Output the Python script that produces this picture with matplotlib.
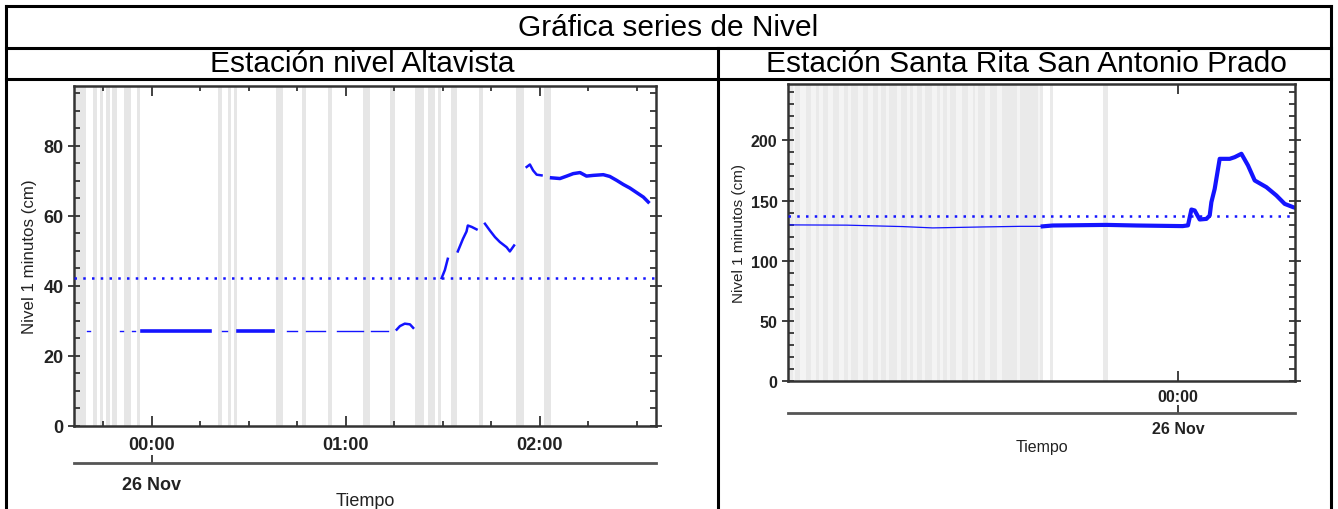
import numpy as np
import matplotlib.pyplot as plt
import matplotlib.dates as mdates
from matplotlib.lines import Line2D

plt.rcParams['font.family'] = ['Liberation Sans', 'DejaVu Sans']

# Fecha base: 26 Nov 00:00
base = np.datetime64('2019-11-26T00:00:00')

def a_fecha(minutos):
    return base + (np.asarray(minutos, dtype=float) * 60).astype('timedelta64[s]')

# ---------------- Estación nivel Altavista (minutos desde 00:00) ----------------
alt_xlim = [-24.1, 155.9]
alt_umbral = 42.2
alt_huecos = [(-24.1, -20.4), (-18.2, -17.0), (-16.1, -15.2), (-14.2, -13.0), (-12.4, -10.8),
              (-8.7, -6.5), (-4.6, -3.7), (20.4, 21.6), (23.5, 24.4), (25.4, 26.3),
              (38.4, 40.5), (46.4, 47.6), (54.4, 55.7), (65.3, 67.4), (73.6, 75.2),
              (81.3, 84.1), (85.4, 87.5), (88.5, 89.4), (92.5, 94.3), (101.1, 102.4),
              (112.6, 115.1), (121.2, 123.4)]
# tramos planos en ~27 cm
alt_planos_finos = [(-20.0, -19.2), (-9.9, -9.1), (-6.3, -5.3), (21.6, 23.1), (41.8, 44.8),
                    (47.8, 53.5), (57.1, 65.3), (67.9, 73.1)]
alt_planos_gruesos = [(-3.2, 17.9), (26.7, 37.5)]
alt_nivel_plano = 27.0
# tramos con variación
alt_t1 = [75.7, 76.7, 78.2, 79.8, 80.8]
alt_v1 = [27.5, 28.5, 29.2, 29.0, 28.0]
alt_t2 = [89.6, 90.6, 91.5]
alt_v2 = [42.2, 44.5, 47.7]
alt_t3 = [94.6, 96.2, 97.3, 97.7, 98.9, 100.4]
alt_v3 = [49.8, 53.4, 55.5, 57.2, 56.8, 56.1]
alt_t4 = [103.0, 104.5, 106.1, 107.6, 109.7, 110.7, 112.0]
alt_v4 = [57.7, 55.8, 53.9, 52.5, 51.0, 49.8, 51.5]
alt_t5 = [115.9, 116.9, 117.9, 119.0, 120.5]
alt_v5 = [73.9, 74.6, 72.9, 71.7, 71.5]
alt_t6 = [123.6, 126.2, 128.3, 130.3, 132.4, 134.4, 136.5, 139.6, 141.6, 143.7, 145.8,
          147.8, 149.9, 152.0, 153.5]
alt_v6 = [70.8, 70.6, 71.3, 72.0, 72.3, 71.3, 71.5, 71.7, 71.2, 70.1, 68.9, 67.9, 66.6,
          65.3, 63.9]

# ---------------- Estación Santa Rita San Antonio Prado (horas desde 00:00) ----------------
sr_xlim = [-10.0, 3.0]
sr_umbral = 136.7
sr_fondo = (-10.0, -3.47)
sr_huecos = [(-9.98, -9.88), (-9.81, -9.68), (-9.55, -9.42), (-9.29, -9.21), (-9.11, -8.98),
             (-8.85, -8.70), (-8.57, -8.47), (-8.39, -8.21), (-8.08, -7.96), (-7.83, -7.70),
             (-7.62, -7.50), (-7.42, -7.21), (-7.09, -6.96), (-6.88, -6.80), (-6.70, -6.57),
             (-6.50, -6.32), (-6.19, -6.11), (-6.03, -5.93), (-5.85, -5.68), (-5.55, -5.39),
             (-5.26, -5.21), (-5.14, -4.96), (-4.83, -4.65), (-4.52, -4.14), (-4.06, -3.60),
             (-3.55, -3.47), (-3.29, -3.21), (-1.93, -1.80)]
sr_t_fino = [-10.0, -9.91, -8.5, -7.06, -6.29, -5.0, -4.06, -3.47]
sr_v_fino = [130.0, 129.7, 129.5, 128.3, 127.2, 128.0, 128.5, 128.5]
sr_t = [-3.47, -3.21, -1.83, -1.06, 0.12, 0.256, 0.344, 0.428, 0.556, 0.728, 0.813, 0.856,
        0.941, 1.069, 1.326, 1.454, 1.626, 1.795, 1.967, 2.267, 2.523, 2.736, 2.949, 3.0]
sr_v = [128.5, 129.2, 129.7, 129.2, 128.7, 129.3, 142.5, 141.7, 134.2, 134.7, 137.5, 148.6,
        159.7, 184.7, 184.7, 186.1, 188.9, 179.2, 166.7, 161.1, 154.2, 147.2, 144.5, 144.0]

W, H = 1338, 510
fig = plt.figure(figsize=(W / 100, H / 100), dpi=100)

def fx(px):
    return px / W

def fy(py):
    return 1 - py / H

# tabla
negro = dict(color='black', lw=2.2, transform=fig.transFigure)
for y in [7, 49, 80]:
    fig.add_artist(Line2D([fx(6), fx(1331)], [fy(y), fy(y)], **negro))
fig.add_artist(Line2D([fx(6), fx(6)], [fy(7), fy(510)], **negro))
fig.add_artist(Line2D([fx(1331), fx(1331)], [fy(7), fy(510)], **negro))
fig.add_artist(Line2D([fx(718), fx(718)], [fy(49), fy(510)], **negro))
fig.text(fx(668), fy(28), 'Gráfica series de Nivel', ha='center', va='center', fontsize=21.5)
fig.text(fx(362), fy(64), 'Estación nivel Altavista', ha='center', va='center', fontsize=21.5)
fig.text(fx(1026), fy(64), 'Estación Santa Rita San Antonio Prado', ha='center', va='center',
         fontsize=21.5)

azul = '#1414ff'
gris_eje = '#333333'


def estilo(ax, sec_pos, fs, pad_x, pad_sec):
    for s in ax.spines.values():
        s.set_linewidth(1.8)
        s.set_color(gris_eje)
    ax.tick_params(axis='both', which='both', top=True, right=True, colors=gris_eje,
                   labelcolor='#222222', labelsize=fs, width=1.3)
    ax.tick_params(axis='x', which='major', direction='in', length=7, pad=pad_x)
    ax.tick_params(axis='x', which='minor', direction='in', length=3.5)
    ax.tick_params(axis='y', which='major', direction='inout', length=9, pad=3)
    ax.tick_params(axis='y', which='minor', direction='in', length=4)
    for lab in ax.get_xticklabels() + ax.get_yticklabels():
        lab.set_fontweight('bold')
    ax.xaxis.set_major_formatter(mdates.DateFormatter('%H:%M'))
    sec = ax.secondary_xaxis(sec_pos)
    sec.xaxis.set_major_locator(mdates.DayLocator())
    sec.xaxis.set_minor_locator(plt.NullLocator())
    sec.xaxis.set_major_formatter(mdates.DateFormatter('%d %b'))
    sec.spines['bottom'].set_linewidth(2.0)
    sec.spines['bottom'].set_color('#555555')
    sec.tick_params(direction='in', length=6, width=1.3, colors=gris_eje, labelcolor='#222222',
                    labelsize=fs, pad=pad_sec)
    for lab in sec.get_xticklabels():
        lab.set_fontweight('bold')
    return sec


# ---------------- panel izquierdo ----------------
ax1 = fig.add_axes([fx(74), fy(427), fx(656) - fx(74), fy(87) - fy(427)])
for a, b in alt_huecos:
    ax1.axvspan(a_fecha(a), a_fecha(b), color='#e6e6e6', lw=0, zorder=0)
ax1.axhline(alt_umbral, color=azul, lw=1.8, ls=(0, (1, 2.5)), zorder=3)
for a, b in alt_planos_finos:
    ax1.plot(a_fecha([a, b]), [alt_nivel_plano] * 2, color=azul, lw=1.0, zorder=2)
for a, b in alt_planos_gruesos:
    ax1.plot(a_fecha([a, b]), [alt_nivel_plano] * 2, color=azul, lw=2.6, zorder=2)
for t, v in [(alt_t1, alt_v1), (alt_t2, alt_v2), (alt_t3, alt_v3), (alt_t4, alt_v4),
             (alt_t5, alt_v5)]:
    ax1.plot(a_fecha(t), v, color=azul, lw=1.8, zorder=2)
ax1.plot(a_fecha(alt_t6), alt_v6, color=azul, lw=2.5, zorder=2)
ax1.set_xlim(a_fecha(alt_xlim[0]), a_fecha(alt_xlim[1]))
ax1.set_ylim(0, 97)
ax1.xaxis.set_major_locator(mdates.HourLocator())
ax1.xaxis.set_minor_locator(mdates.MinuteLocator(byminute=[15, 30, 45]))
ax1.set_yticks([0, 20, 40, 60, 80])
ax1.set_yticks(np.arange(0, 97, 5), minor=True)
estilo(ax1, -0.109, 13, 7, 9)
ax1.text(0.5, -0.22, 'Tiempo', transform=ax1.transAxes, ha='center', va='center',
         fontsize=13, color='#222222')
ax1.text(-0.076, 0.5, 'Nivel 1 minutos (cm)', transform=ax1.transAxes, ha='center',
         va='center', rotation=90, fontsize=12.2, color='#222222')

# ---------------- panel derecho ----------------
ax2 = fig.add_axes([fx(788), fy(381.7), fx(1295) - fx(788), fy(85) - fy(381.7)])
hh = lambda h: a_fecha(np.asarray(h) * 60)
ax2.axvspan(hh(sr_fondo[0]), hh(sr_fondo[1]), color='#f4f4f4', lw=0, zorder=0)
for a, b in sr_huecos:
    ax2.axvspan(hh(a), hh(b), color='#eaeaea', lw=0, zorder=0)
ax2.axhline(sr_umbral, color=azul, lw=1.8, ls=(0, (1, 2.5)), zorder=3)
ax2.plot(hh(sr_t_fino), sr_v_fino, color=azul, lw=0.9, zorder=2)
ax2.plot(hh(sr_t), sr_v, color=azul, lw=3.0, zorder=2)
ax2.set_xlim(hh(sr_xlim[0]), hh(sr_xlim[1]))
ax2.set_ylim(0, 247)
ax2.xaxis.set_major_locator(mdates.HourLocator(byhour=[0]))
ax2.xaxis.set_minor_locator(plt.NullLocator())
ax2.set_yticks([0, 50, 100, 150, 200])
ax2.set_yticks(np.arange(0, 247, 10), minor=True)
estilo(ax2, -0.109, 11.5, 6, 6)
ax2.text(0.5, -0.222, 'Tiempo', transform=ax2.transAxes, ha='center', va='center',
         fontsize=11.5, color='#222222')
ax2.text(-0.097, 0.5, 'Nivel 1 minutos (cm)', transform=ax2.transAxes, ha='center',
         va='center', rotation=90, fontsize=11, color='#222222')

fig.savefig('out.png', dpi=100)
